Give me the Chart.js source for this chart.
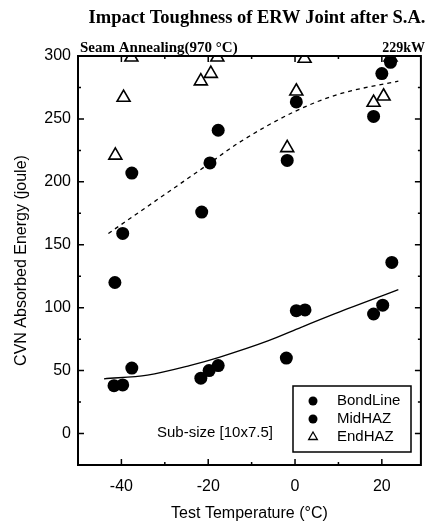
<!DOCTYPE html>
<html>
<head>
<meta charset="utf-8">
<script src="https://cdn.jsdelivr.net/npm/chart.js@4.4.1/dist/chart.umd.min.js"></script>
<style>
html,body{margin:0;padding:0;background:#fff;}
#wrap{width:430px;height:525px;position:relative;}
</style>
</head>
<body>
<div id="wrap"><canvas id="c" width="430" height="525"></canvas></div>
<script>
// ---- data ----
const bondTemp   = [-41.7, -39.7, -37.6, -21.7, -19.8, -17.7, -2.0, 0.3, 2.3, 18.1, 20.2, 22.3];
const bondEnergy = [38, 38.6, 52, 44, 50, 54, 60, 97.6, 98.2, 95, 102, 136];
const midTemp    = [-41.5, -39.7, -37.6, -21.5, -19.6, -17.7, -1.8, 0.3, 18.1, 20.0, 22.0];
const midEnergy  = [120, 159, 207, 176, 215, 241, 217, 263.5, 252, 286, 295];
const endTemp    = [-41.4, -39.5, -37.7, -21.7, -19.4, -17.9, -1.8, 0.3, 2.2, 18.1, 20.4, 22.0];
const endEnergy  = [221, 267, 299, 280, 286, 299, 227, 272, 298, 263, 268, 299];
const bondFitTemp   = [-44, -34, -24.3, -17.5, -6.1, 1.4, 12, 23.8];
const bondFitEnergy = [43.5, 46.5, 54, 60.6, 73.8, 84.4, 99, 114.3];
const midFitTemp    = [-43, -30, -20, -13, 0, 10, 23.8];
const midFitEnergy  = [159, 190, 214, 231, 256, 269.6, 280];
const xMajorTicks = [-40, -20, 0, 20];
const xMinorTicks = [-30, -10, 10];
const yMajorTicks = [0, 50, 100, 150, 200, 250, 300];
const yMinorTicks = [-25, 25, 75, 125, 175, 225, 275];
const seriesNames = ['BondLine', 'MidHAZ', 'EndHAZ'];

const toXY = (xs, ys) => xs.map((x, i) => ({x, y: ys[i]}));
const SANS = '"Liberation Sans", Arial, sans-serif';
const SERIF = '"Liberation Serif", "Times New Roman", serif';

const decorPlugin = {
  id: 'decor',
  afterDatasetsDraw(chart) {
    const ctx = chart.ctx;
    const a = chart.chartArea;
    const xs = chart.scales.x, ys = chart.scales.y;
    ctx.save();
    // frame
    ctx.strokeStyle = '#000';
    ctx.lineWidth = 2;
    ctx.strokeRect(a.left, a.top, a.right - a.left, a.bottom - a.top);
    // ticks (inward, mirrored)
    ctx.lineWidth = 1.5;
    ctx.beginPath();
    const xt = (v, len) => {
      const p = xs.getPixelForValue(v);
      ctx.moveTo(p, a.bottom); ctx.lineTo(p, a.bottom - len);
      ctx.moveTo(p, a.top); ctx.lineTo(p, a.top + len);
    };
    const yt = (v, len) => {
      const p = ys.getPixelForValue(v);
      ctx.moveTo(a.left, p); ctx.lineTo(a.left + len, p);
      ctx.moveTo(a.right, p); ctx.lineTo(a.right - len, p);
    };
    xMajorTicks.forEach(v => xt(v, 6));
    xMinorTicks.forEach(v => xt(v, 3));
    yMajorTicks.forEach(v => yt(v, 6));
    yMinorTicks.forEach(v => yt(v, 3));
    ctx.stroke();

    // title and annotations
    ctx.fillStyle = '#000';
    ctx.textBaseline = 'alphabetic';
    ctx.textAlign = 'center';
    ctx.font = 'bold 18.5px ' + SERIF;
    ctx.fillText('Impact Toughness of ERW Joint after S.A.', 257, 23);
    ctx.font = 'bold 15px ' + SERIF;
    ctx.textAlign = 'left';
    ctx.fillText('Seam Annealing(970 \u00B0C)', 80, 52);
    ctx.font = 'bold 14px ' + SERIF;
    ctx.textAlign = 'right';
    ctx.fillText('229kW', 425, 52);
    ctx.font = '15px ' + SANS;
    ctx.textAlign = 'left';
    ctx.textBaseline = 'middle';
    ctx.fillText('Sub-size [10x7.5]', 157, 433);

    // legend box
    const lx = 293, ly = 386, lw = 118, lh = 66;
    ctx.fillStyle = '#fff';
    ctx.fillRect(lx, ly, lw, lh);
    ctx.lineWidth = 1.5;
    ctx.strokeStyle = '#000';
    ctx.strokeRect(lx, ly, lw, lh);
    const rows = [401, 419, 437];
    seriesNames.forEach((name, i) => {
      const ds = chart.data.datasets[i];
      if (ds.pointStyle === 'triangle') {
        ctx.fillStyle = '#fff'; ctx.strokeStyle = '#000';
        ctx.lineWidth = 1.3;
        ctx.beginPath();
        const r = 5;
        ctx.moveTo(313, rows[i] - r);
        ctx.lineTo(313 + r * 0.866, rows[i] + r * 0.5);
        ctx.lineTo(313 - r * 0.866, rows[i] + r * 0.5);
        ctx.closePath();
        ctx.fill(); ctx.stroke();
      } else {
        ctx.fillStyle = '#000';
        ctx.beginPath(); ctx.arc(313, rows[i], 4.5, 0, Math.PI * 2); ctx.fill();
      }
      ctx.fillStyle = '#000';
      ctx.font = '15px ' + SANS;
      ctx.textAlign = 'left';
      ctx.textBaseline = 'middle';
      ctx.fillText(name, 337, rows[i]);
    });
    ctx.restore();
  }
};

new Chart(document.getElementById('c'), {
  type: 'scatter',
  data: {
    datasets: [
      { label: seriesNames[0], data: toXY(bondTemp, bondEnergy), pointStyle: 'circle', pointRadius: 6.5,
        backgroundColor: '#000', borderColor: '#000', borderWidth: 0, clip: 0 },
      { label: seriesNames[1], data: toXY(midTemp, midEnergy), pointStyle: 'circle', pointRadius: 6.5,
        backgroundColor: '#000', borderColor: '#000', borderWidth: 0, clip: 0 },
      { label: seriesNames[2], data: toXY(endTemp, endEnergy), pointStyle: 'triangle', pointRadius: 7.5,
        backgroundColor: '#fff', borderColor: '#000', borderWidth: 1.6, clip: 0 },
      { label: 'fitBond', data: toXY(bondFitTemp, bondFitEnergy), showLine: true, pointRadius: 0,
        borderColor: '#000', borderWidth: 1.3, cubicInterpolationMode: 'monotone', fill: false },
      { label: 'fitMid', data: toXY(midFitTemp, midFitEnergy), showLine: true, pointRadius: 0,
        borderColor: '#000', borderWidth: 1.3, borderDash: [4, 4], cubicInterpolationMode: 'monotone', fill: false }
    ]
  },
  options: {
    responsive: false,
    animation: false,
    events: [],
    layout: { padding: { left: 0, right: 5, top: 56, bottom: 0 } },
    plugins: { legend: { display: false }, tooltip: { enabled: false }, title: { display: false } },
    scales: {
      x: {
        type: 'linear', min: -50, max: 29,
        afterFit: s => { s.height = 60; },
        afterBuildTicks: s => { s.ticks = xMajorTicks.map(v => ({value: v})); },
        grid: { display: false, drawTicks: false },
        border: { display: false },
        ticks: { color: '#000', font: { family: SANS, size: 16 }, padding: 12, maxRotation: 0 },
        title: { display: true, text: 'Test Temperature (\u00B0C)', color: '#000',
                 font: { family: SANS, size: 16 }, padding: { top: 0, bottom: 2 } }
      },
      y: {
        type: 'linear', min: -25, max: 300,
        afterFit: s => { s.width = 78; },
        afterBuildTicks: s => { s.ticks = yMajorTicks.map(v => ({value: v})); },
        grid: { display: false, drawTicks: false },
        border: { display: false },
        ticks: { color: '#000', font: { family: SANS, size: 16 }, padding: 7 },
        title: { display: true, text: 'CVN Absorbed Energy (joule)', color: '#000',
                 font: { family: SANS, size: 16 }, padding: { top: 12, bottom: 0 } }
      }
    }
  },
  plugins: [decorPlugin]
});
</script>
</body>
</html>
